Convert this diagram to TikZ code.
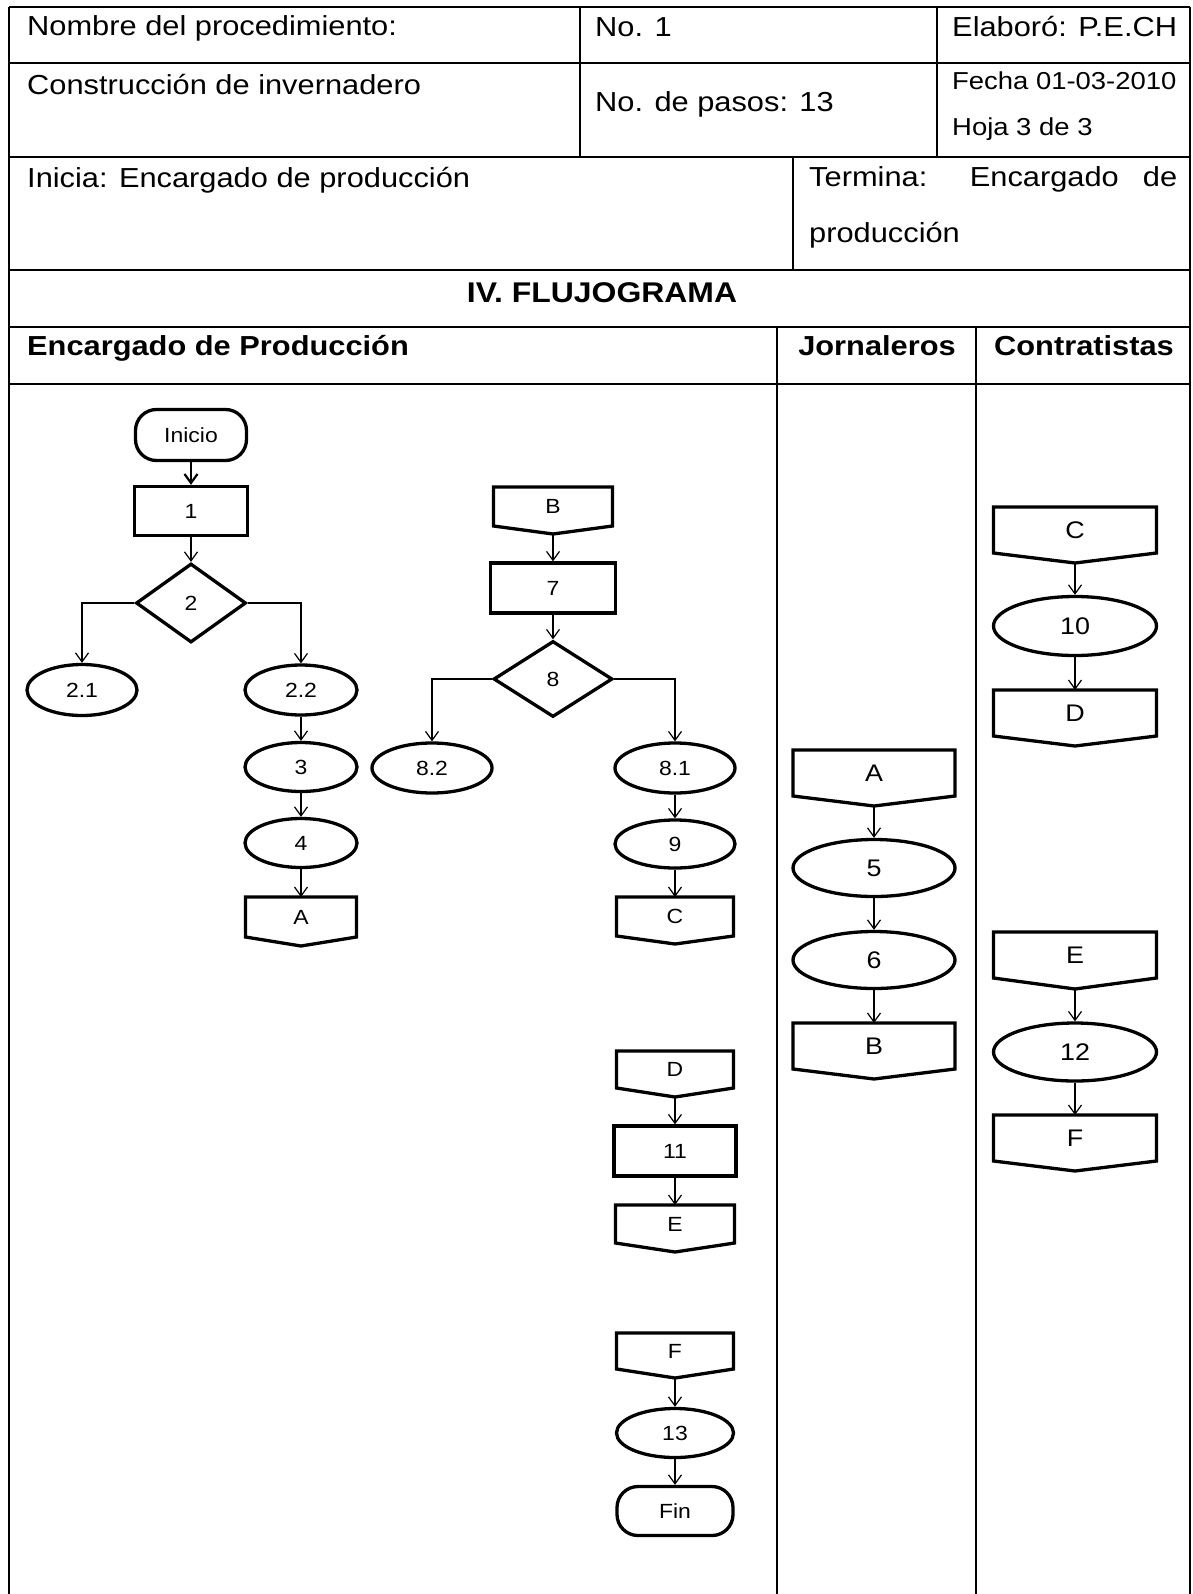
\documentclass[tikz,border=0pt]{standalone}
\usepackage{fontspec}
\setmainfont{Liberation Sans}[FakeStretch=1.12]
\usetikzlibrary{shapes.geometric,arrows.meta,calc}
\newcommand\offpg[2]{%
  \draw[shp] (#1.north west) -- (#1.north east) -- (#1.south east) -- ($(#1.south)+(0,#2)$) coordinate (#1t) -- (#1.south west) -- cycle;}
\begin{document}
\begin{tikzpicture}[x=1pt,y=-1pt,
  tbl/.style={line width=1.8pt},
  hd/.style={anchor=base west, inner sep=0pt, font=\fontsize{27.5}{33}\selectfont},
  hds/.style={anchor=base west, inner sep=0pt, font=\fontsize{24.5}{29}\selectfont},
  hdb/.style={anchor=base west, inner sep=0pt, font=\bfseries\fontsize{27.5}{33}\selectfont},
  shp/.style={draw, line width=3.3pt},
  lbl/.style={font=\fontsize{20.5}{24}\selectfont},
  lblL/.style={font=\fontsize{24}{28}\selectfont},
  sbox/.style={shp, rectangle, inner sep=0pt},
  sell/.style={shp, ellipse, inner sep=0pt},
  sdia/.style={shp, diamond, inner sep=0pt},
  sterm/.style={shp, rectangle, rounded corners=21pt, inner sep=0pt},
  cbox/.style={rectangle, inner sep=0pt, outer sep=0pt},
  arr/.style={line width=1.2pt, -{Straight Barb[length=9pt,width=13pt]}},
  arrT/.style={line width=2.2pt, -{Straight Barb[length=9pt,width=13pt]}}
]
\useasboundingbox (0,0) rectangle (1192,1594);
% ---------- table ----------
\draw[tbl] (9,7) -- (1190,7);
\draw[tbl] (9,7) -- (9,1594);
\draw[tbl] (1190,7) -- (1190,1594);
\draw[tbl] (9,63) -- (1190,63);
\draw[tbl] (9,157) -- (1190,157);
\draw[tbl] (9,270) -- (1190,270);
\draw[tbl] (9,327) -- (1190,327);
\draw[tbl] (9,384) -- (1190,384);
\draw[tbl] (580,7) -- (580,157);
\draw[tbl] (937,7) -- (937,157);
\draw[tbl] (793,157) -- (793,270);
\draw[tbl] (777,327) -- (777,1594);
\draw[tbl] (976,327) -- (976,1594);
% ---------- header texts ----------
\node[hd] (t1) at (27,36) {Nombre del procedimiento:};
\node[hd] (t2) at (595,37) {No. 1};
\node[hd] (t3) at (952,37) {Elaboró: P.E.CH};
\node[hd] (t4) at (27,95) {Construcción de invernadero};
\node[hd] (t5) at (595,112) {No. de pasos: 13};
\node[hds] (t6) at (952,90) {Fecha 01-03-2010};
\node[hds] (t7) at (952,136) {Hoja 3 de 3};
\node[hd] (t8) at (27,188) {Inicia: Encargado de producción};
\node[hd] (t9) at (809,187) {\makebox[368pt][s]{Termina: Encargado de}};
\node[hd] (t10) at (809,243) {producción};
\node[hdb, anchor=base, font=\bfseries\fontsize{28.5}{34}\selectfont] (t11) at (602,302) {IV. FLUJOGRAMA};
\node[hdb] (t12) at (27,355) {Encargado de Producción};
\node[hdb, anchor=base] (t13) at (877,355) {Jornaleros};
\node[hdb, anchor=base] (t14) at (1084,355) {Contratistas};
% ---------- Encargado de produccion: column 1 ----------
\node[sterm, lbl, minimum width=111pt, minimum height=51pt] (ini) at (191,435) {Inicio};
\node[sbox, lbl, minimum width=113pt, minimum height=49pt] (n1) at (191,511) {1};
\node[sdia, lbl, minimum width=110pt, minimum height=79pt] (d2) at (191,603) {2};
\node[sell, lbl, minimum width=110pt, minimum height=51pt] (e21) at (82,690) {2.1};
\node[sell, lbl, minimum width=112pt, minimum height=50pt] (e22) at (301,690) {2.2};
\node[sell, lbl, minimum width=112pt, minimum height=49pt] (e3) at (301,767) {3};
\node[sell, lbl, minimum width=112pt, minimum height=49pt] (e4) at (301,843) {4};
\node[cbox, lbl, minimum width=111pt, minimum height=40pt] (cA) at (301,917) {A};
\offpg{cA}{9}
% ---------- column 2 ----------
\node[cbox, lbl, minimum width=119pt, minimum height=39pt] (cB) at (553,506.5) {B};
\offpg{cB}{8}
\node[sbox, lbl, minimum width=125pt, minimum height=50pt] (n7) at (553,588) {7};
\node[sdia, lbl, minimum width=119pt, minimum height=76pt] (d8) at (553,679) {8};
\node[sell, lbl, minimum width=120pt, minimum height=50pt] (e82) at (432,768) {8.2};
\node[sell, lbl, minimum width=120pt, minimum height=50pt] (e81) at (675,768) {8.1};
\node[sell, lbl, minimum width=120pt, minimum height=48pt] (e9) at (675,844) {9};
\node[cbox, lbl, minimum width=117pt, minimum height=39pt] (cC) at (675,916.5) {C};
\offpg{cC}{8}
\node[cbox, lbl, minimum width=117pt, minimum height=37pt] (cD) at (675,1069.5) {D};
\offpg{cD}{9}
\node[sbox, lbl, minimum width=122pt, minimum height=50pt] (n11) at (675,1151) {11};
\node[cbox, lbl, minimum width=119pt, minimum height=38pt] (cE) at (675,1224) {E};
\offpg{cE}{9}
\node[cbox, lbl, minimum width=117pt, minimum height=36pt] (cF) at (675,1351) {F};
\offpg{cF}{9}
\node[sell, lbl, minimum width=117pt, minimum height=49pt] (e13) at (675,1433) {13};
\node[sterm, lbl, minimum width=116pt, minimum height=49pt] (fin) at (675,1511) {Fin};
% ---------- Jornaleros ----------
\node[cbox, lblL, minimum width=162pt, minimum height=46pt] (cA2) at (874,773) {A};
\offpg{cA2}{10}
\node[sell, lblL, minimum width=162pt, minimum height=57pt] (e5) at (874,868) {5};
\node[sell, lblL, minimum width=162pt, minimum height=57pt] (e6) at (874,960) {6};
\node[cbox, lblL, minimum width=162pt, minimum height=46pt] (cB2) at (874,1046) {B};
\offpg{cB2}{10}
% ---------- Contratistas ----------
\node[cbox, lblL, minimum width=163pt, minimum height=46pt] (cC2) at (1075,530) {C};
\offpg{cC2}{10}
\node[sell, lblL, minimum width=163pt, minimum height=59pt] (e10) at (1075,626) {10};
\node[cbox, lblL, minimum width=163pt, minimum height=46pt] (cD2) at (1075,713) {D};
\offpg{cD2}{10}
\node[cbox, lblL, minimum width=163pt, minimum height=46pt] (cE2) at (1075,955) {E};
\offpg{cE2}{11}
\node[sell, lblL, minimum width=163pt, minimum height=58pt] (e12) at (1075,1052) {12};
\node[cbox, lblL, minimum width=163pt, minimum height=46pt] (cF2) at (1075,1138) {F};
\offpg{cF2}{10}
% ---------- connectors ----------
\draw[arrT] (ini) -- (n1);
\draw[arr] (n1) -- (d2);
\draw[arr] (d2.west) -| (e21);
\draw[arr] (d2.east) -| (e22);
\draw[arr] (e22) -- (e3);
\draw[arr] (e3) -- (e4);
\draw[arr] (e4) -- (cA);
\draw[arr] (cBt) -- (n7);
\draw[arr] (n7) -- (d8);
\draw[arr] (d8.west) -| (e82);
\draw[arr] (d8.east) -| (e81);
\draw[arr] (e81) -- (e9);
\draw[arr] (e9) -- (cC);
\draw[arr] (cDt) -- (n11);
\draw[arr] (n11) -- (cE);
\draw[arr] (cFt) -- (e13);
\draw[arr] (e13) -- (fin);
\draw[arr] (cA2t) -- (e5);
\draw[arr] (e5) -- (e6);
\draw[arr] (e6) -- (cB2);
\draw[arr] (cC2t) -- (e10);
\draw[arr] (e10) -- (cD2);
\draw[arr] (cE2t) -- (e12);
\draw[arr] (e12) -- (cF2);
\end{tikzpicture}
\end{document}
